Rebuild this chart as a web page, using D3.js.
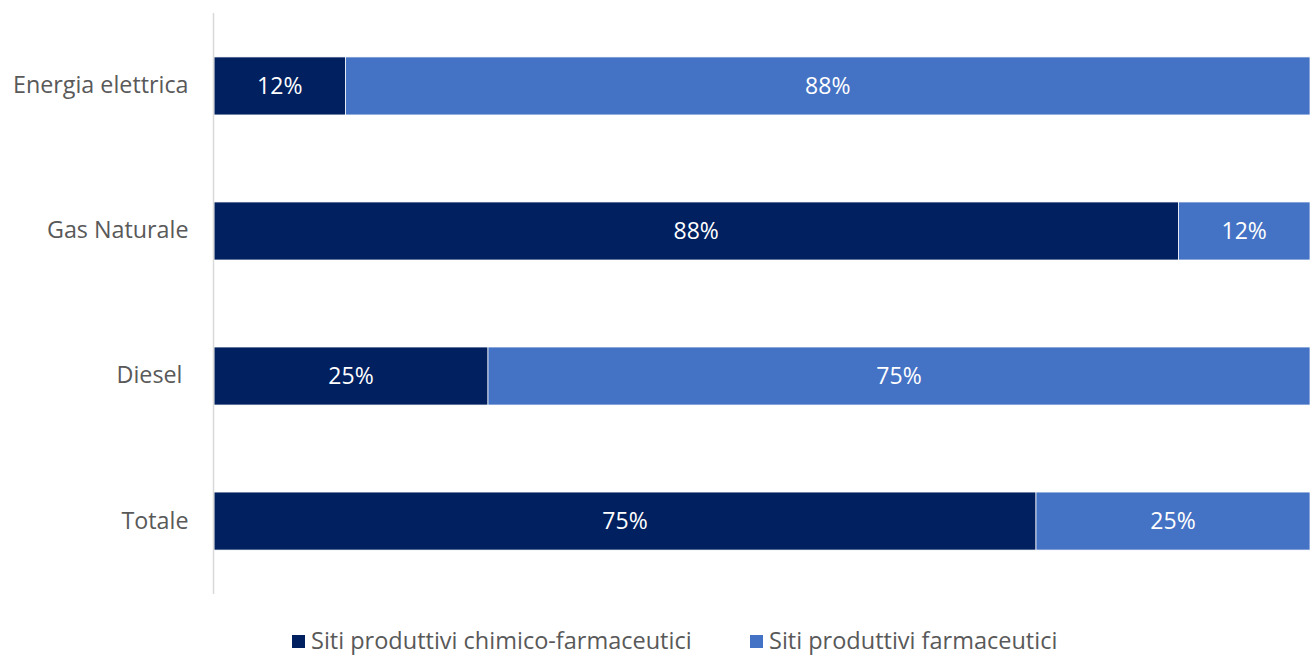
<!DOCTYPE html>
<html>
<head>
<meta charset="utf-8">
<script src="https://cdn.jsdelivr.net/npm/d3@7"></script>
<style>
  html, body { margin: 0; padding: 0; background: #fff; }
  svg { display: block; font-family: "Open Sans", "Noto Sans", sans-serif; }
</style>
</head>
<body>
<svg id="chart" width="1310" height="658"></svg>
<script>
// Fuel categories and the share of each type of production site
const categories = ["Energia elettrica", "Gas Naturale", "Diesel ", "Totale"];
const chimicoFarmaceutici = [12, 88, 25, 75];
const farmaceutici = [88, 12, 75, 25];
const seriesNames = ["Siti produttivi chimico-farmaceutici", "Siti produttivi farmaceutici"];
const seriesColors = ["#00205f", "#4472c4"];

const svg = d3.select("#chart");

const x = d3.scaleLinear().domain([0, 100]).range([214, 1310]);
const y = d3.scaleBand().domain(categories).range([13, 594])
  .paddingInner(0.6).paddingOuter(0.303);

// Build stacked rows
const rows = categories.map((c, i) => ({ cat: c, s0: chimicoFarmaceutici[i], s1: farmaceutici[i] }));
const stack = d3.stack().keys(["s0", "s1"])(rows);

// Bars
stack.forEach((layer, li) => {
  const g = svg.append("g");
  g.selectAll("rect").data(layer).join("rect")
    .attr("x", d => x(d[0]))
    .attr("y", d => y(d.data.cat))
    .attr("width", d => x(d[1]) - x(d[0]))
    .attr("height", y.bandwidth())
    .attr("fill", seriesColors[li])
    .attr("stroke", "#ffffff")
    .attr("stroke-width", 0.75);
  g.selectAll("text").data(layer).join("text")
    .attr("x", d => (x(d[0]) + x(d[1])) / 2)
    .attr("y", d => y(d.data.cat) + y.bandwidth() / 2)
    .attr("dy", "0.36em")
    .attr("text-anchor", "middle")
    .attr("fill", "#ffffff")
    .attr("font-size", 23)
    .text(d => (d[1] - d[0]) + "%");
});

// Category axis
const yAxis = svg.append("g").attr("transform", "translate(213.5,0)")
  .call(d3.axisLeft(y).tickSize(0).tickPadding(25));
yAxis.select(".domain").attr("stroke", "#d9d9d9").attr("stroke-width", 1.5)
  .attr("d", "M0,13V594");
yAxis.selectAll("text")
  .attr("fill", "#595959")
  .attr("font-size", 23.3)
  .attr("font-family", "'Open Sans', sans-serif")
  .style("white-space", "pre");

// Legend
const legendX = [292, 750];
const legend = svg.append("g");
seriesNames.forEach((name, i) => {
  legend.append("rect")
    .attr("x", legendX[i]).attr("y", 635)
    .attr("width", 13).attr("height", 13)
    .attr("fill", seriesColors[i]);
  legend.append("text")
    .attr("x", legendX[i] + 19).attr("y", 641)
    .attr("dy", "0.36em")
    .attr("fill", "#595959")
    .attr("font-size", 23.5)
    .text(name);
});
</script>
</body>
</html>
